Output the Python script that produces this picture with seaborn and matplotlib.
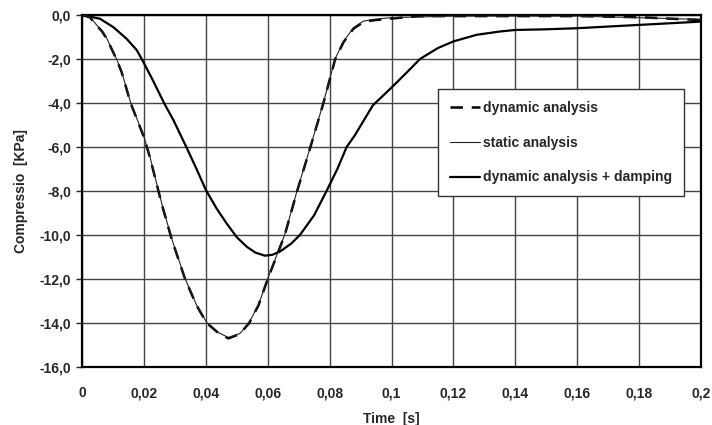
import matplotlib
matplotlib.use("Agg")
import matplotlib.pyplot as plt
import numpy as np
import pandas as pd
import seaborn as sns

# ---------------------------------------------------------------
# Data
# ---------------------------------------------------------------
t_dyn = [0, 0.0025, 0.0047, 0.0065, 0.008, 0.0101, 0.0114, 0.0128, 0.0157,
         0.020, 0.022, 0.0257, 0.029, 0.0333, 0.037, 0.0403, 0.044, 0.0473,
         0.051, 0.054, 0.057, 0.060, 0.0655, 0.0695, 0.0738, 0.078, 0.0818,
         0.0845, 0.0877, 0.0909, 0.0941, 0.1, 0.109, 0.12, 0.14, 0.16, 0.18,
         0.2]
p_dyn = [0, -0.1, -0.47, -0.75, -1.08, -1.7, -2.1, -2.6, -4.0,
         -5.55, -6.5, -8.56, -10.2, -12.0, -13.2, -14.0, -14.45, -14.7,
         -14.5, -14.0, -13.2, -12.0, -10.0, -8.0, -6.0, -4.0, -2.0,
         -1.23, -0.62, -0.32, -0.24, -0.16, -0.05, -0.05, -0.05, -0.05, -0.1,
         -0.23]

t_stat = [0, 0.0025, 0.0047, 0.0065, 0.008, 0.0101, 0.0114, 0.0128, 0.0157,
          0.020, 0.022, 0.0257, 0.029, 0.0333, 0.037, 0.0403, 0.044, 0.0473,
          0.051, 0.054, 0.057, 0.060, 0.0655, 0.0695, 0.0738, 0.078, 0.0818,
          0.0845, 0.0877, 0.0909, 0.0941, 0.1, 0.12, 0.16, 0.2]
p_stat = [0, -0.08, -0.45, -0.73, -1.06, -1.68, -2.08, -2.58, -3.98,
          -5.53, -6.48, -8.54, -10.18, -11.98, -13.18, -13.98, -14.43, -14.66,
          -14.48, -13.98, -13.18, -11.98, -9.98, -7.98, -5.98, -3.98, -1.98,
          -1.2, -0.58, -0.28, -0.2, -0.12, -0.05, -0.05, -0.2]

t_damp = [0, 0.0058, 0.0101, 0.0144, 0.0177, 0.0198, 0.023, 0.0265, 0.0295,
          0.0338, 0.037, 0.040, 0.0435, 0.0467, 0.050, 0.0532, 0.056, 0.0591,
          0.0615, 0.064, 0.0675, 0.0704, 0.075, 0.079, 0.0825, 0.0855, 0.088,
          0.091, 0.094, 0.1, 0.105, 0.1092, 0.115, 0.12, 0.1275, 0.135, 0.14,
          0.15, 0.16, 0.18, 0.2]
p_damp = [0, -0.17, -0.55, -1.08, -1.6, -2.13, -3.0, -4.0, -4.77,
          -6.03, -7.0, -7.95, -8.8, -9.47, -10.1, -10.53, -10.8, -10.94,
          -10.9, -10.75, -10.4, -10.0, -9.1, -8.0, -7.0, -6.0, -5.5,
          -4.8, -4.1, -3.3, -2.6, -2.0, -1.5, -1.2, -0.9, -0.75, -0.68,
          -0.65, -0.6, -0.45, -0.3]

x_ticks = [0, 0.02, 0.04, 0.06, 0.08, 0.1, 0.12, 0.14, 0.16, 0.18, 0.2]
x_tick_labels = ["0", "0,02", "0,04", "0,06", "0,08", "0,1", "0,12", "0,14",
                 "0,16", "0,18", "0,2"]
y_ticks = [0, -2, -4, -6, -8, -10, -12, -14, -16]
y_tick_labels = ["0,0", "-2,0", "-4,0", "-6,0", "-8,0", "-10,0", "-12,0",
                 "-14,0", "-16,0"]

# ---------------------------------------------------------------
# Style
# ---------------------------------------------------------------
sns.set_style("white")
plt.rcParams["font.family"] = ["Liberation Sans", "DejaVu Sans"]
plt.rcParams["font.weight"] = "bold"
plt.rcParams["font.size"] = 10

fig = plt.figure(figsize=(7.12, 4.25), dpi=100)
ax = fig.add_axes([0.1152, 0.1365, 0.8694, 0.8282])

sns.lineplot(x=t_stat, y=p_stat, ax=ax, color="#222222", lw=0.8,
             label="static analysis", sort=False, zorder=4)
sns.lineplot(x=t_dyn, y=p_dyn, ax=ax, color="black", lw=1.8,
             label="dynamic analysis", sort=False, zorder=3)
sns.lineplot(x=t_damp, y=p_damp, ax=ax, color="black", lw=1.6,
             label="dynamic analysis + damping", sort=False, zorder=3)
ax.get_lines()[1].set_dashes((5, 3.5))

ax.set_xlim(0, 0.2)
ax.set_ylim(-16, 0)
ax.set_xticks(x_ticks)
ax.set_xticklabels(x_tick_labels, fontweight="bold")
ax.set_yticks(y_ticks)
ax.set_yticklabels(y_tick_labels, fontweight="bold")
ax.tick_params(axis="x", length=0, pad=14)
ax.tick_params(axis="y", length=4, width=1, pad=4, direction="out", left=True)

ax.grid(True, color="#444444", lw=1)
ax.set_axisbelow(True)
for side, sp in ax.spines.items():
    sp.set_visible(True)
    sp.set_color("black")
    sp.set_linewidth(1.6)

ax.set_xlabel("Time  [s]", fontweight="bold", labelpad=8)
ax.set_ylabel("Compressio  [KPa]", fontweight="bold", labelpad=8)

handles, labels = ax.get_legend_handles_labels()
order = [1, 0, 2]
leg = ax.legend([handles[i] for i in order], [labels[i] for i in order],
                loc="upper left", bbox_to_anchor=(438 / 712, 1 - 89 / 425),
                bbox_transform=fig.transFigure, frameon=True, fancybox=False,
                framealpha=1, edgecolor="#333333", handlelength=2.2,
                handletextpad=0.2, labelspacing=1.5, borderpad=0.85,
                borderaxespad=0, prop={"weight": "bold", "size": 10})
leg.get_frame().set_linewidth(1)

fig.savefig("out.png", dpi=100)
